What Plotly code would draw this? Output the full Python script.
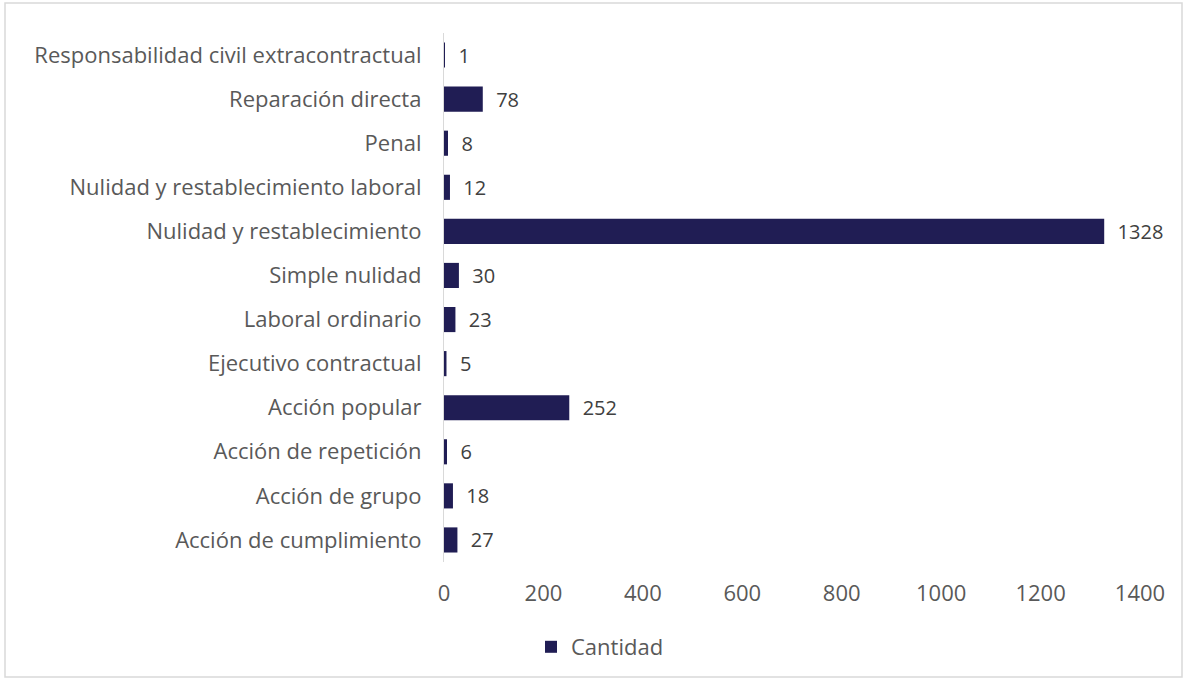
import plotly.graph_objects as go

categorias = [
    "Responsabilidad civil extracontractual",
    "Reparación directa",
    "Penal",
    "Nulidad y restablecimiento laboral",
    "Nulidad y restablecimiento",
    "Simple nulidad",
    "Laboral ordinario",
    "Ejecutivo contractual",
    "Acción popular",
    "Acción de repetición",
    "Acción de grupo",
    "Acción de cumplimiento",
]
cantidad = [1, 78, 8, 12, 1328, 30, 23, 5, 252, 6, 18, 27]
ticks_x = [0, 200, 400, 600, 800, 1000, 1200, 1400]

FONT = "Open Sans"
FS = 22
W, H = 1185, 680
ML, MR, MT, MB = 444, 45, 33, 118
pw, ph = W - ML - MR, H - MT - MB

fig = go.Figure(go.Bar(
    y=categorias,
    x=cantidad,
    orientation="h",
    name="Cantidad",
    marker=dict(color="#201d54", line=dict(width=0)),
    text=["  " + str(v) for v in cantidad],
    textposition="outside",
    constraintext="none",
    textfont=dict(family=FONT, size=20, color="#404040"),
    cliponaxis=False,
))

# light grey frame around the whole chart
fig.add_shape(
    type="rect", xref="paper", yref="paper",
    x0=(5 - ML) / pw, x1=(1182 - ML) / pw,
    y0=(H - MB - 677) / ph, y1=(H - MB - 3) / ph,
    line=dict(color="#d9d9d9", width=1.5), fillcolor="rgba(0,0,0,0)",
)

fig.update_layout(
    width=W, height=H,
    margin=dict(l=ML, r=MR, t=MT, b=MB),
    paper_bgcolor="white", plot_bgcolor="white",
    bargap=0.43,
    font=dict(family=FONT, size=FS, color="#595959"),
    showlegend=True,
    legend=dict(
        orientation="h", xref="container", yref="container",
        x=531 / W, y=1 - 647 / H, xanchor="left", yanchor="middle",
        font=dict(family=FONT, size=FS, color="#595959"),
        itemwidth=30,
    ),
    xaxis=dict(
        range=[0, 1400], tickvals=ticks_x, showgrid=False, zeroline=False,
        showline=False, ticks="", ticklen=0, ticklabelstandoff=16,
        tickfont=dict(family=FONT, size=FS, color="#595959"),
    ),
    yaxis=dict(
        categoryorder="array", categoryarray=categorias, autorange="reversed",
        showline=True, linecolor="#d9d9d9", linewidth=1, showgrid=False,
        ticks="", ticksuffix="   ",
        tickfont=dict(family=FONT, size=FS, color="#595959"),
    ),
)

fig.write_html("out.html")
